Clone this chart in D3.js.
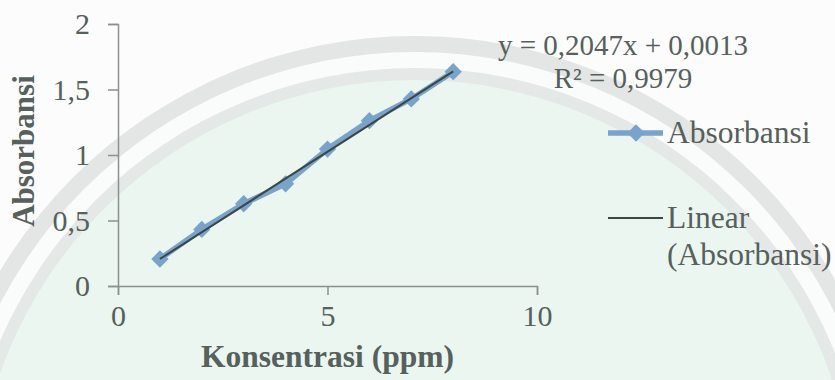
<!DOCTYPE html>
<html>
<head>
<meta charset="utf-8">
<script src="https://cdn.jsdelivr.net/npm/d3@7"></script>
<style>
  html, body { margin: 0; padding: 0; background: #f8fbf9; }
  svg { display: block; }
  text { font-family: "Liberation Serif", "Times New Roman", serif; }
</style>
</head>
<body>
<div id="chart"></div>
<script>
// data
const konsentrasi = [1, 2, 3, 4, 5, 6, 7, 8];
const absorbansi = [0.206, 0.432, 0.628, 0.78, 1.045, 1.262, 1.428, 1.636];
const trend = { slope: 0.2047, intercept: 0.0013 };
const xTicks = [0, 5, 10];
const yTicks = [0, 0.5, 1, 1.5, 2];
const equationLines = ["y = 0,2047x + 0,0013", "R² = 0,9979"];
const legendLabels = ["Absorbansi", ["Linear", "(Absorbansi)"]];

const width = 835, height = 380;
const marginLeft = 118, marginTop = 24, plotRight = 537, plotBottom = 286;
const fmt = d => String(d).replace(".", ",");

const svg = d3.select("#chart")
  .append("svg")
  .attr("width", width)
  .attr("height", height)
  .attr("viewBox", [0, 0, width, height]);

// faint watermark arcs behind the chart
const wm = svg.append("g").attr("id", "watermark");
wm.append("rect").attr("width", width).attr("height", height).attr("fill", "#fbfcfb");
const cx = 415, cy = 520;
wm.append("circle").attr("cx", cx).attr("cy", cy).attr("r", 484).attr("fill", "#e3e6e4");
wm.append("circle").attr("cx", cx).attr("cy", cy).attr("r", 468).attr("fill", "#fafcfb");
wm.append("circle").attr("cx", cx).attr("cy", cy).attr("r", 452).attr("fill", "#e4e8e6");
wm.append("circle").attr("cx", cx).attr("cy", cy).attr("r", 440).attr("fill", "#eaf6ef");

const x = d3.scaleLinear().domain([0, 10]).range([marginLeft, plotRight]);
const y = d3.scaleLinear().domain([0, 2]).range([plotBottom, marginTop]);

const axisColor = "#8c908e";
const textColor = "#56605c";

svg.append("g")
  .attr("transform", `translate(0,${plotBottom})`)
  .call(d3.axisBottom(x).tickValues(xTicks).tickSize(9).tickPadding(10).tickFormat(fmt))
  .call(g => g.select(".domain").attr("stroke", axisColor).attr("stroke-width", 1.5))
  .call(g => g.selectAll(".tick line").attr("stroke", axisColor).attr("stroke-width", 1.5))
  .call(g => g.selectAll(".tick text")
    .attr("font-size", 30)
    .attr("fill", textColor));

svg.append("g")
  .attr("transform", `translate(${marginLeft},0)`)
  .call(d3.axisLeft(y).tickValues(yTicks).tickSize(10).tickPadding(18).tickSizeOuter(10).tickFormat(fmt))
  .call(g => g.select(".domain").attr("stroke", axisColor).attr("stroke-width", 1.5))
  .call(g => g.selectAll(".tick line").attr("stroke", axisColor).attr("stroke-width", 1.5))
  .call(g => g.selectAll(".tick text")
    .attr("font-size", 30)
    .attr("fill", textColor));

// axis titles
svg.append("text")
  .attr("x", x(5))
  .attr("y", 367)
  .attr("text-anchor", "middle")
  .attr("font-size", 31.5)
  .attr("font-weight", "bold")
  .attr("fill", textColor)
  .text("Konsentrasi (ppm)");

svg.append("text")
  .attr("transform", `translate(34,${y(1.03)}) rotate(-90)`)
  .attr("text-anchor", "middle")
  .attr("font-size", 31)
  .attr("font-weight", "bold")
  .attr("fill", textColor)
  .text("Absorbansi");

// data series
const seriesColor = "#7aa3cb";
const line = d3.line().x((d, i) => x(konsentrasi[i])).y(d => y(d));
svg.append("path")
  .attr("fill", "none")
  .attr("stroke", seriesColor)
  .attr("stroke-width", 5.5)
  .attr("stroke-linejoin", "round")
  .attr("d", line(absorbansi));

const diamond = d3.symbol().type(d3.symbolSquare).size(150);
svg.append("g")
  .selectAll("path")
  .data(absorbansi)
  .join("path")
  .attr("d", diamond)
  .attr("transform", (d, i) => `translate(${x(konsentrasi[i])},${y(d)}) rotate(45)`)
  .attr("fill", seriesColor);

// linear trendline
const xExt = d3.extent(konsentrasi);
svg.append("path")
  .attr("fill", "none")
  .attr("stroke", "#3b4744")
  .attr("stroke-width", 2)
  .attr("d", d3.line()(xExt.map(v => [x(v), y(trend.slope * v + trend.intercept)])));

// equation
svg.append("text")
  .attr("x", 623)
  .attr("y", 55)
  .attr("text-anchor", "middle")
  .attr("font-size", 29)
  .attr("fill", textColor)
  .selectAll("tspan")
  .data(equationLines)
  .join("tspan")
  .attr("x", 623)
  .attr("dy", (d, i) => i ? 33 : 0)
  .text(d => d);

// legend
const leg = svg.append("g");
leg.append("line")
  .attr("x1", 608).attr("x2", 663).attr("y1", 133).attr("y2", 133)
  .attr("stroke", seriesColor).attr("stroke-width", 5.5);
leg.append("path")
  .attr("d", diamond)
  .attr("transform", "translate(636,133) rotate(45)")
  .attr("fill", seriesColor);
leg.append("text")
  .attr("x", 667).attr("y", 143)
  .attr("font-size", 31.5)
  .attr("fill", textColor)
  .text(legendLabels[0]);
leg.append("line")
  .attr("x1", 608).attr("x2", 663).attr("y1", 218).attr("y2", 218)
  .attr("stroke", "#3b4744").attr("stroke-width", 2);
leg.append("text")
  .attr("font-size", 31.5)
  .attr("fill", textColor)
  .selectAll("tspan")
  .data(legendLabels[1])
  .join("tspan")
  .attr("x", 667)
  .attr("y", (d, i) => 228 + i * 37)
  .text(d => d);
</script>
</body>
</html>
